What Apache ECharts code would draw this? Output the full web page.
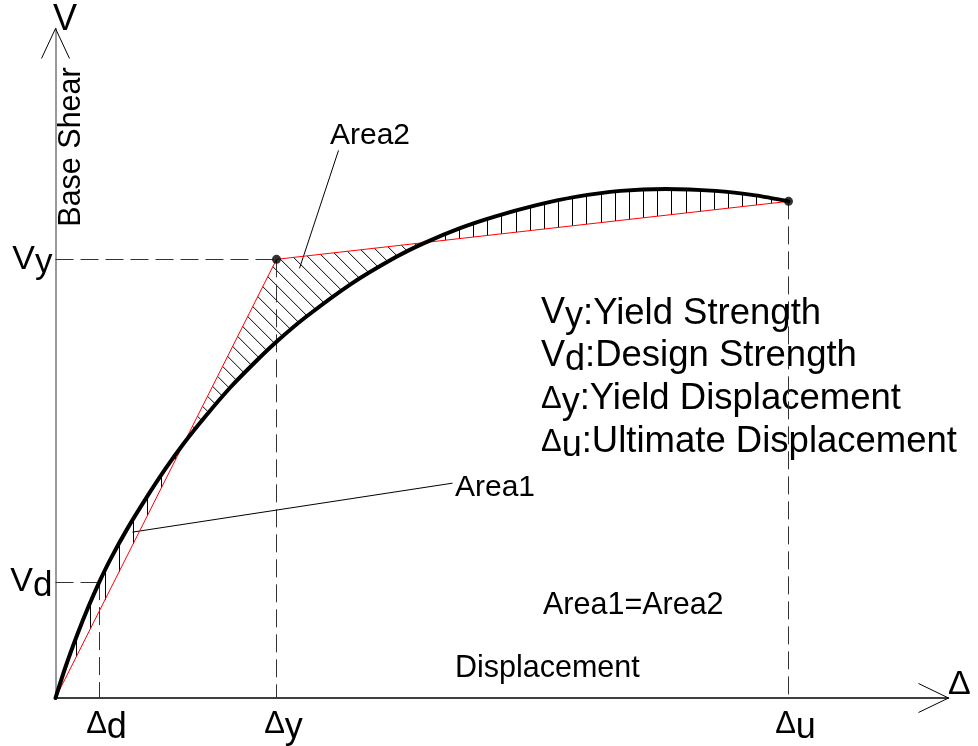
<!DOCTYPE html>
<html><head><meta charset="utf-8">
<script src="https://cdn.jsdelivr.net/npm/echarts@6/dist/echarts.min.js"></script>
<style>html,body{margin:0;padding:0;background:#fff}#c{width:978px;height:746px}</style>
</head><body><div id="c"></div>
<script>
// Pushover curve (base shear V vs displacement Δ)
const curveX = [0,10,22,33,44,55,71,90,110,128,150,175,200,221,250,295,340,368,404,440,480,520,565,610,660,700,733];
const curveY = [0,31,64,91.5,116.5,139,168,199,229.5,254.5,282,311,336.5,356.5,381,414,441,455,470,482,493,501.5,507.5,509.5,507.5,503,497];
// idealised bilinear (red) curve: origin, yield point, ultimate point
const bilinearX = [0,221,733];
const bilinearY = [0,439,497];
// axis marks
const xTickValues = [44,221,733];
const xTickSubs = ['d','y','u'];
const yTickValues = [116,439];
const yTickSubs = ['d','y'];
const X_MAX = 893, Y_MAX = 670;

const F = "'Liberation Sans', Arial, sans-serif";
const chart = echarts.init(document.getElementById('c'));

function interp(xs, ys, x){
  if (x <= xs[0]) return ys[0];
  for (let i=1;i<xs.length;i++){
    if (x <= xs[i]){ const t=(x-xs[i-1])/(xs[i]-xs[i-1]); return ys[i-1]+t*(ys[i]-ys[i-1]); }
  }
  return ys[ys.length-1];
}
const curveAt = x => interp(curveX, curveY, x);
const redAt = x => interp(bilinearX, bilinearY, x);

// vertical hatching where the curve lies above the bilinear line (Area1)
const vHatch = [];
for (let x = 21; x < bilinearX[2]; x += 14.17){
  const c = curveAt(x), r = redAt(x);
  if (c - r > 0.5) vHatch.push({coords:[[x,r],[x,c]]});
}
// diagonal hatching where the bilinear line lies above the curve (Area2)
function solve(f, c){ let lo=0, hi=bilinearX[2]; for(let k=0;k<60;k++){const m=(lo+hi)/2; if(f(m)+m<c) lo=m; else hi=m;} return (lo+hi)/2; }
const dHatch = [];
const c0 = bilinearX[1] + bilinearY[1] + 4;
for (let k=-40;k<40;k++){
  const c = c0 + 15*k;
  const xr = solve(redAt, c), xc = solve(curveAt, c);
  if (xc - xr > 0.3) dHatch.push({coords:[[xr, c-xr],[xc, c-xc]]});
}

const dashStyle = {color:'#333', width:1, type:[18,7], opacity:1};
const Vy = bilinearY[1], Dy = bilinearX[1], Du = bilinearX[2], Vu = bilinearY[2];
const Dd = xTickValues[0], Vd = yTickValues[0];
const guides = [
  {coords:[[0,Vy],[Dy,Vy]]},
  {coords:[[Dy,Vy],[Dy,0]]},
  {coords:[[Du,Vu],[Du,0]]},
  {coords:[[0,Vd],[Dd,Vd]]},
  {coords:[[Dd,Vd],[Dd,0]]}
];

const richX = {
  D:{fontSize:31, fontFamily:F, color:'#000'},
  s:{fontSize:36, fontFamily:F, color:'#000', padding:[8,0,0,0]}
};
const richY = {
  V:{fontSize:34, fontFamily:F, color:'#000'},
  s:{fontSize:35, fontFamily:F, color:'#000', padding:[8,0,0,0]}
};
const richBlock = {
  V:{fontSize:36, fontFamily:F, color:'#000', lineHeight:44},
  D:{fontSize:31, fontFamily:F, color:'#000', lineHeight:44},
  s:{fontSize:36, fontFamily:F, color:'#000', padding:[8,0,0,0], lineHeight:44},
  m:{fontSize:36.5, fontFamily:F, color:'#000', lineHeight:44}
};

function txt(text, x, y, size, extra){
  return Object.assign({type:'text', x:x, y:y, silent:true,
    style:{text:text, fontSize:size, fontFamily:F, fill:'#000', textAlign:'left', textVerticalAlign:'middle'}}, extra||{});
}

chart.setOption({
  animation:false,
  backgroundColor:'#fff',
  grid:{left:55.5, right:29.5, top:28.5, bottom:47.5, containLabel:false},
  xAxis:{type:'value', min:0, max:X_MAX,
    axisLine:{show:true, lineStyle:{color:'#000', width:1.5}},
    axisTick:{show:false}, splitLine:{show:false},
    axisLabel:{customValues:xTickValues, margin:4, padding:[0,0,0,14],
      formatter:v=>'{D|Δ}{s|'+xTickSubs[xTickValues.indexOf(v)]+'}', rich:richX}},
  yAxis:{type:'value', min:0, max:Y_MAX,
    axisLine:{show:true, lineStyle:{color:'#777', width:1.5}},
    axisTick:{show:false}, splitLine:{show:false},
    axisLabel:{customValues:yTickValues, margin:3,
      formatter:v=>'{V|V}{s|'+yTickSubs[yTickValues.indexOf(v)]+'}', rich:richY}},
  series:[
    {type:'lines', coordinateSystem:'cartesian2d', z:2, silent:true, clip:false,
      lineStyle:{color:'#000', width:1, opacity:1}, data:vHatch.concat(dHatch)},
    {type:'lines', coordinateSystem:'cartesian2d', z:2, silent:true, clip:false,
      lineStyle:dashStyle, data:guides},
    {type:'line', z:3, silent:true, data:bilinearX.map((x,i)=>[x,bilinearY[i]]),
      showSymbol:false, lineStyle:{color:'#ff0000', width:1}},
    {type:'line', z:4, silent:true, data:curveX.map((x,i)=>[x,curveY[i]]),
      smooth:0.25, showSymbol:false, lineStyle:{color:'#000', width:4, cap:'round'}},
    {type:'scatter', z:5, silent:true, symbolSize:9, itemStyle:{color:'#000'},
      data:[[Dy,Vy],[Du,Vu]]},
    // axis arrows and leader lines
    {type:'lines', coordinateSystem:'cartesian2d', z:3, silent:true, clip:false,
      lineStyle:{color:'#000', width:1, opacity:1},
      data:[
        {coords:[[X_MAX,0],[X_MAX-30,14.5]]},
        {coords:[[X_MAX,0],[X_MAX-30,-14.5]]},
        {coords:[[0,Y_MAX],[-14,Y_MAX-30]]},
        {coords:[[0,Y_MAX],[14,Y_MAX-30]]},
        {coords:[[283,548],[244,430]]},
        {coords:[[77,166],[397,215],[492,485]]}
      ]}
  ],
  graphic:[
    txt('V', 53, 20, 36),
    txt('Δ', 948, 685, 34),
    txt('Base Shear', 71.5, 147, 30, {rotation:Math.PI/2, style:{text:'Base Shear', fontSize:30.5, fontFamily:F, fill:'#000', textAlign:'center', textVerticalAlign:'middle'}}),
    txt('Area2', 330, 136, 30),
    txt('Area1', 455, 488, 30),
    txt('Area1=Area2', 543, 606, 30.5),
    txt('Displacement', 455, 669, 30.5),
    {type:'text', x:541, y:313.5, silent:true, style:{text:'{V|V}{s|y}{m|:Yield Strength}', rich:richBlock, textAlign:'left', textVerticalAlign:'middle'}},
    {type:'text', x:541, y:356, silent:true, style:{text:'{V|V}{s|d}{m|:Design Strength}', rich:richBlock, textAlign:'left', textVerticalAlign:'middle'}},
    {type:'text', x:541, y:399, silent:true, style:{text:'{D|Δ}{s|y}{m|:Yield Displacement}', rich:richBlock, textAlign:'left', textVerticalAlign:'middle'}},
    {type:'text', x:541, y:442, silent:true, style:{text:'{D|Δ}{s|u}{m|:Ultimate Displacement}', rich:richBlock, textAlign:'left', textVerticalAlign:'middle'}}
  ]
});
</script></body></html>
